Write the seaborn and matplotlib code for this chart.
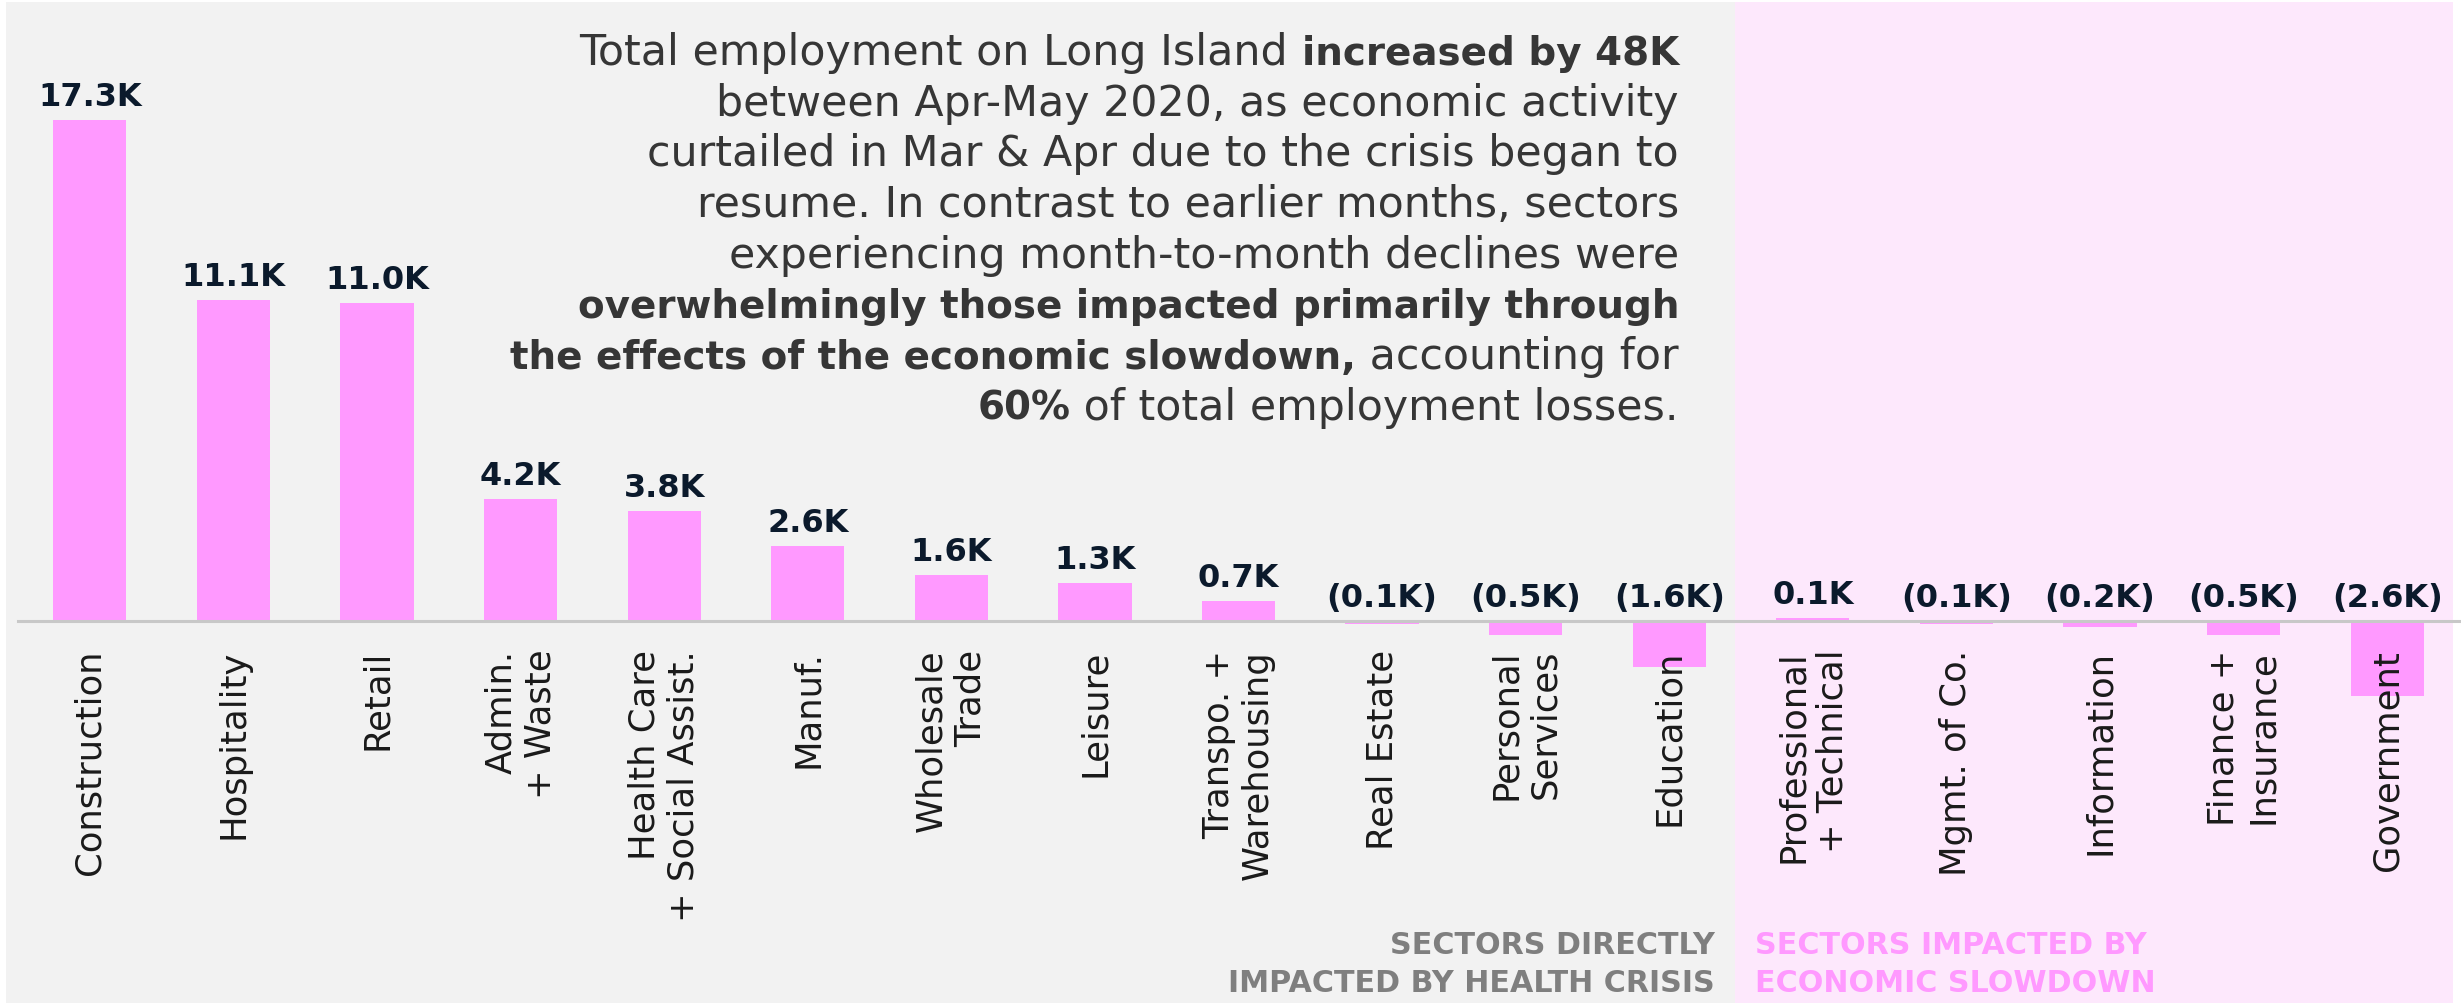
import matplotlib
matplotlib.use("Agg")
import matplotlib.pyplot as plt
import seaborn as sns
import pandas as pd
from matplotlib.patches import Rectangle
from matplotlib.transforms import IdentityTransform

# ---- data: month-to-month employment change, Apr-May 2020 (thousands) ----
sectors = [
    "Construction", "Hospitality", "Retail", "Admin.\n+ Waste",
    "Health Care\n+ Social Assist.", "Manuf.", "Wholesale\nTrade", "Leisure",
    "Transpo. +\nWarehousing", "Real Estate", "Personal\nServices", "Education",
    "Professional\n+ Technical", "Mgmt. of Co.", "Information",
    "Finance +\nInsurance", "Government",
]
change_k = [17.3, 11.1, 11.0, 4.2, 3.8, 2.6, 1.6, 1.3, 0.7,
            -0.1, -0.5, -1.6, 0.1, -0.1, -0.2, -0.5, -2.6]

health_group = ["SECTORS DIRECTLY", "IMPACTED BY HEALTH CRISIS"]
slowdown_group = ["SECTORS IMPACTED BY", "ECONOMIC SLOWDOWN"]

# each line is a list of (text, bold) runs
summary_lines = [
    [("Total employment on Long Island ", False), ("increased by 48K", True)],
    [("between Apr-May 2020, as economic activity", False)],
    [("curtailed in Mar & Apr due to the crisis began to", False)],
    [("resume. In contrast to earlier months, sectors", False)],
    [("experiencing month-to-month declines were", False)],
    [("overwhelmingly those impacted primarily through", True)],
    [("the effects of the economic slowdown,", True), (" accounting for", False)],
    [("60%", True), (" of total employment losses.", False)],
]

# ---- style ----
BAR = "#ff99ff"
GRAY_BG = "#f2f2f2"
PINK_BG = "#fde8fc"
NAVY = "#0b1a2c"
TEXT = "#363636"

W, H, DPI = 2461, 1004, 100
sns.set_theme(style="white")
plt.rcParams["font.family"] = ["DejaVu Sans"]

fig = plt.figure(figsize=(W / DPI, H / DPI), dpi=DPI, facecolor="white")


def fx(px):
    return px / W


def fy(py):
    return 1 - py / H


# background panels for the two sector groups
fig.patches.append(Rectangle((fx(6), 0), fx(1735) - fx(6), fy(3),
                             transform=fig.transFigure, facecolor=GRAY_BG,
                             edgecolor="none", zorder=-10))
fig.patches.append(Rectangle((fx(1735), 0), fx(2453) - fx(1735), fy(3),
                             transform=fig.transFigure, facecolor=PINK_BG,
                             edgecolor="none", zorder=-10))

# axes geometry: zero line at y=622 px, ~28.95 px per thousand
px_per_k = 28.95
zero_py = 622
y_top, y_bot = 20.5, -4.0
ax_top_py = zero_py - y_top * px_per_k
ax_h = (y_top - y_bot) * px_per_k
ax = fig.add_axes([fx(18), 1 - (ax_top_py + ax_h) / H, (2459 - 18) / W, ax_h / H])
ax.set_facecolor("none")

df = pd.DataFrame({"sector": sectors, "change": change_k})
sns.barplot(data=df, x="sector", y="change", color=BAR, saturation=1,
            width=0.51, linewidth=0, ax=ax)
ax.set_xlim(-0.5, 16.5)
ax.set_ylim(y_bot, y_top)
ax.set_xlabel("")
ax.set_ylabel("")

# sector names sit on top of the negative bars
ax.set_axisbelow(False)
ax.xaxis.set_zorder(4)

for side in ("top", "right", "left"):
    ax.spines[side].set_visible(False)
ax.spines["bottom"].set_position(("data", 0))
ax.spines["bottom"].set_color("#c8c8c8")
ax.spines["bottom"].set_linewidth(2.2)
ax.spines["bottom"].set_zorder(3)
ax.set_yticks([])
ax.set_xticks(range(len(sectors)))
ax.set_xticklabels(sectors, rotation=90, ha="center", va="top",
                   multialignment="right")
ax.tick_params(axis="x", length=0, pad=20, labelsize=25.5, labelcolor="#1a1a1a")

# value labels
for i, v in enumerate(change_k):
    label = f"{v:.1f}K" if v >= 0 else f"({abs(v):.1f}K)"
    ax.annotate(label, xy=(i, max(v, 0)), xytext=(0, 8),
                textcoords="offset pixels", ha="center", va="bottom",
                fontsize=23, fontweight="bold", color=NAVY, zorder=5)

# summary paragraph, right aligned, with bold runs
renderer = fig.canvas.get_renderer()
right_px = 1679
for k, line in enumerate(summary_lines):
    base_py = 65 + k * 50.7
    x = right_px
    for text, bold in reversed(line):
        t = fig.text(x, H - base_py, text, transform=IdentityTransform(),
                     ha="right", va="baseline",
                     fontsize=28 if bold else 30.8,
                     fontweight="bold" if bold else "normal", color=TEXT)
        x = t.get_window_extent(renderer).x0

# group captions
for k, (left_line, right_line) in enumerate(zip(health_group, slowdown_group)):
    base = 954 + k * 38
    fig.text(fx(1715), fy(base), left_line, ha="right", va="baseline",
             fontsize=21.7, fontweight="bold", color="#7f7f7f")
    fig.text(fx(1755), fy(base), right_line, ha="left", va="baseline",
             fontsize=21.7, fontweight="bold", color=BAR)

fig.savefig("out.png", dpi=DPI, facecolor="white")
